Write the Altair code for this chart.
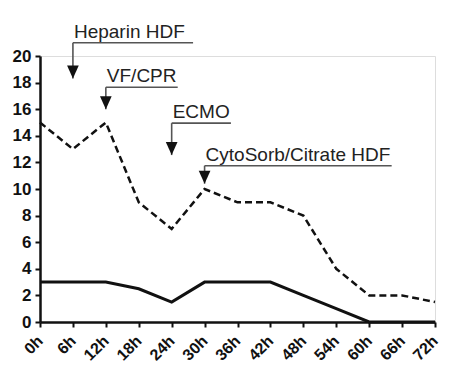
import altair as alt
import pandas as pd

hours = [0, 6, 12, 18, 24, 30, 36, 42, 48, 54, 60, 66, 72]
dashed_vals = [15, 13, 15, 9, 7, 10, 9, 9, 8, 4, 2, 2, 1.5]
solid_vals = [3, 3, 3, 2.5, 1.5, 3, 3, 3, 2, 1, 0, 0, 0]

ann_labels = ["Heparin HDF", "VF/CPR", "ECMO", "CytoSorb/Citrate HDF"]
ann_hour = [6, 12, 24, 30]
ann_line_y = [21.0, 17.65, 14.95, 11.75]
ann_line_end = [27.9, 25.1, 34.8, 64.1]
ann_tip_y = [18.3, 16.0, 12.55, 10.4]

series = pd.DataFrame({
    "hour": hours * 2,
    "value": dashed_vals + solid_vals,
    "series": ["dashed"] * len(hours) + ["solid"] * len(hours),
})
ann = pd.DataFrame({
    "label": ann_labels,
    "hour": ann_hour,
    "line_y": ann_line_y,
    "line_end": ann_line_end,
    "tip_y": ann_tip_y,
})

FONT = "Liberation Sans"
xscale = alt.Scale(domain=[0, 72], nice=False, zero=False)
yscale = alt.Scale(domain=[0, 20], nice=False)

xaxis = alt.Axis(values=hours, labelExpr="datum.value + 'h'", labelAngle=-45,
                 labelAlign="right", labelBaseline="middle", labelFontSize=16,
                 labelFontWeight="bold", labelFont=FONT, labelColor="#111",
                 labelPadding=11, tickSize=5, tickWidth=2, tickColor="#111",
                 domainColor="#111", domainWidth=2.5, grid=False, title=None,
                 labelOverlap=False, labelFlush=False, labelBound=False)
yaxis = alt.Axis(values=list(range(0, 21, 2)), labelFontSize=17, labelFontWeight="bold",
                 labelFont=FONT, labelColor="#111", labelPadding=4, tickSize=5,
                 tickWidth=2, tickColor="#111", domainColor="#111", domainWidth=2.5,
                 grid=False, title=None, labelOverlap=False, labelFlush=False,
                 labelBound=False)


def X(field):
    return alt.X(field, type="quantitative", scale=xscale, axis=xaxis)


def Y(field):
    return alt.Y(field, type="quantitative", scale=yscale, axis=yaxis)


dashed = alt.Chart(series).transform_filter("datum.series == 'dashed'").mark_line(
    color="#111", strokeWidth=2.5, strokeDash=[7, 4]
).encode(x=X("hour"), y=Y("value"))

solid = alt.Chart(series).transform_filter("datum.series == 'solid'").mark_line(
    color="#111", strokeWidth=3
).encode(x=X("hour"), y=Y("value"))

hline = alt.Chart(ann).mark_rule(color="#555", strokeWidth=1.6).encode(
    x=X("hour"), x2="line_end:Q", y=Y("line_y"))
vline = alt.Chart(ann).mark_rule(color="#555", strokeWidth=1.6).encode(
    x=X("hour"), y=Y("line_y"), y2="tip_y:Q")
tri = alt.Chart(ann).mark_point(
    shape="M-0.9,-1L0.9,-1L0,1Z", size=169, filled=True, color="#111", opacity=1, yOffset=-6.5
).encode(x=X("hour"), y=Y("tip_y"))
text = alt.Chart(ann).mark_text(
    align="left", baseline="alphabetic", dx=1, dy=-5, fontSize=19, font=FONT, color="#222"
).encode(x=X("hour"), y=Y("line_y"), text="label:N")

chart = alt.layer(dashed, solid, hline, vline, tri, text).properties(
    width=395, height=266,
    autosize=alt.AutoSizeParams(type="none"),
    padding={"left": 32, "top": 48, "right": 9, "bottom": 44},
).configure_view(stroke=None).configure(background="white")

chart.save("out.html", embed_options={"renderer": "svg", "actions": False})
